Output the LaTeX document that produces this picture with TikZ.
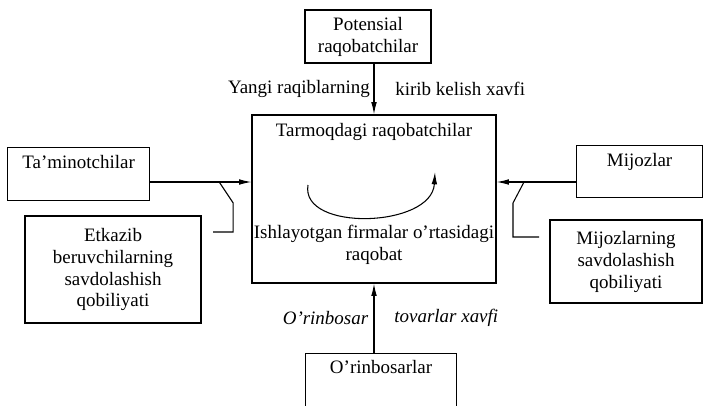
\documentclass[tikz,border=0pt]{standalone}
\usepackage{fontspec}
\setmainfont{Liberation Serif}
\usetikzlibrary{positioning,arrows.meta}
\tikzset{
  box/.style={draw,line width=0.7pt,align=center,inner sep=0pt},
  arr/.style={line width=0.6pt,-{Latex[length=7pt,width=3.2pt]}},
  wire/.style={line width=0.6pt}
}
\begin{document}
\begin{tikzpicture}[x=0.02cm,y=-0.02cm,font=\fontsize{10.8}{12.5}\selectfont]
\useasboundingbox (0,0) rectangle (704,406);
% boxes
\node[box,minimum width=2.52cm,minimum height=1.06cm] (pot) at (368,36.5) {Potensial\\raqobatchilar};
\node[box,minimum width=4.88cm,minimum height=3.36cm] (tarm) at (374,199) {};
\node[box,anchor=north west,minimum width=2.84cm,text height=0.42cm,text depth=0.64cm] (tam) at (7,147) {Ta'minotchilar};
\node[box,minimum width=3.52cm,minimum height=2.14cm] (etk) at (113,269.5) {Etkazib\\beruvchilarning\\savdolashish\\qobiliyati};
\node[box,anchor=north west,minimum width=2.52cm,text height=0.42cm,text depth=0.62cm] (mij) at (576,145) {Mijozlar};
\node[box,minimum width=3.04cm,minimum height=1.66cm] (mijs) at (626,261.5) {Mijozlarning\\savdolashish\\qobiliyati};
\node[box,anchor=north west,minimum width=3.02cm,text height=0.4cm,text depth=1.6cm] (orin) at (305,353) {O'rinbosarlar};
% texts in the middle box
\node[inner sep=0pt,text height=0.44cm,below=0pt of tarm.north] (tarmt) {Tarmoqdagi raqobatchilar};
\node[inner sep=0pt,align=center,above=0.38cm of tarm.south] (ish) {Ishlayotgan firmalar o'rtasidagi\\raqobat};
\draw[arr] (308,185) .. controls (300,232) and (432,228) .. (435,172);
% threats
\draw[arr] (tarm.north |- pot.south) -- node[midway,left,inner sep=2pt] (yangi) {Yangi raqiblarning} node[midway,right,xshift=0.3cm] (kirib) {kirib kelish xavfi} (tarm.north);
\draw[arr] (tarm.south |- orin.north) -- node[midway,left,inner sep=3pt] (orb) {\itshape O'rinbosar} node[midway,right,xshift=0.28cm] (tov) {\itshape tovarlar xavfi} (tarm.south);
% suppliers and buyers
\coordinate (row) at (0,182);
\draw[arr] (tam.east |- row) -- (tarm.west |- row);
\draw[arr] (mij.west |- row) -- (tarm.east |- row);
\draw[wire] (tam.east |- row) ++(69,0) -- ++(14,21) -- ++(0,29) -- ++(-20,0);
\draw[wire] (mij.west |- row) ++(-52,0) -- ++(-11,21) -- ++(0,34) -- ++(26,0);
\end{tikzpicture}
\end{document}
